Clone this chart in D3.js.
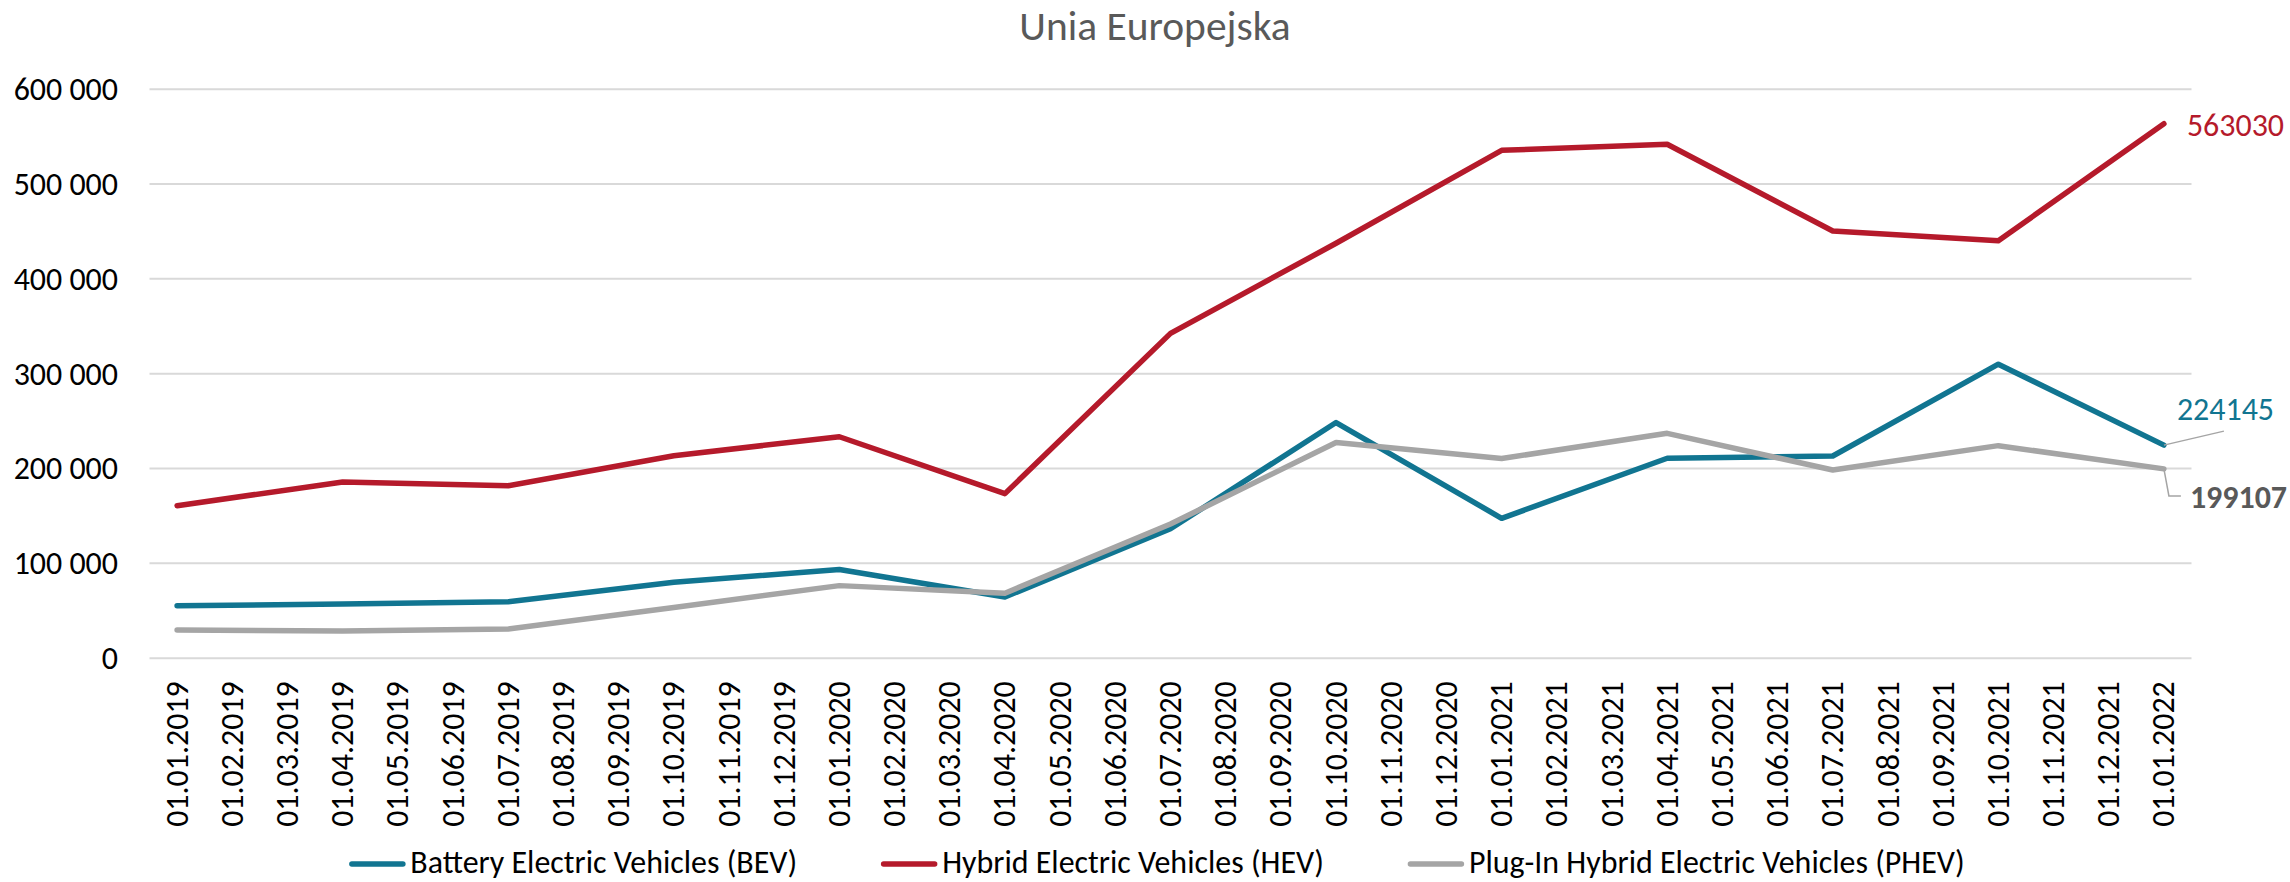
<!DOCTYPE html>
<html><head><meta charset="utf-8">
<script src="https://cdn.jsdelivr.net/npm/d3@7"></script>
<style>html,body{margin:0;padding:0;background:#fff;overflow:hidden}</style>
</head><body><svg id="c" width="2290" height="882"></svg>
<script>
const chartTitle = "Unia Europejska";
const categories = [
  "01.01.2019","01.02.2019","01.03.2019","01.04.2019","01.05.2019","01.06.2019",
  "01.07.2019","01.08.2019","01.09.2019","01.10.2019","01.11.2019","01.12.2019",
  "01.01.2020","01.02.2020","01.03.2020","01.04.2020","01.05.2020","01.06.2020",
  "01.07.2020","01.08.2020","01.09.2020","01.10.2020","01.11.2020","01.12.2020",
  "01.01.2021","01.02.2021","01.03.2021","01.04.2021","01.05.2021","01.06.2021",
  "01.07.2021","01.08.2021","01.09.2021","01.10.2021","01.11.2021","01.12.2021",
  "01.01.2022"
];
const seriesNames = ["Battery Electric Vehicles (BEV)","Hybrid Electric Vehicles (HEV)","Plug-In Hybrid Electric Vehicles (PHEV)"];
const bevValues = [54800,null,null,56600,null,null,59100,null,null,79500,null,null,
  93000,null,null,64000,null,null,136000,null,null,248000,null,null,
  147000,null,null,210300,null,null,212700,null,null,309500,null,null,224145];
const hevValues = [160300,null,null,185300,null,null,181400,null,null,213000,null,null,
  233000,null,null,173000,null,null,342000,null,null,437000,null,null,
  535000,null,null,541400,null,null,450000,null,null,439700,null,null,563030];
const phevValues = [29200,null,null,28200,null,null,30300,null,null,53000,null,null,
  76000,null,null,68000,null,null,141000,null,null,227000,null,null,
  210000,null,null,236600,null,null,197900,null,null,223600,null,null,199107];
const yTicks = [0,100000,200000,300000,400000,500000,600000];

const colors = ["#117591","#B51A2B","#A5A5A5"];
const FONT = "Carlito, Calibri, Lato, 'Open Sans', sans-serif";

(function(){
const svg = d3.select("#c");
const probe = svg.append("text").style("font-family",FONT).style("font-size","100px").text("Battery Electric Vehicles (BEV)");
const pw = probe.node().getComputedTextLength(); probe.remove();
const FS = Math.min(34, 100*387/pw);
const TFS = FS*41/31.6;

const pL = 149.5, pR = 2191.5, pT = 88.7, pB = 657.7;
const x = d3.scaleBand().domain(categories).range([pL,pR]).padding(0);
const y = d3.scaleLinear().domain([0,600000]).range([pB,pT]);
const bw = x.bandwidth();
const loc = d3.formatLocale({decimal:",",thousands:" ",grouping:[3],currency:["",""]});
const fmt = loc.format(",d");

svg.append("text").attr("x",1155).attr("y",40).attr("text-anchor","middle")
  .style("font-family",FONT).style("font-size",TFS+"px").style("fill","#595959").text(chartTitle);

const ya = svg.append("g").attr("transform",`translate(${pL},0)`)
  .call(d3.axisLeft(y).tickValues(yTicks).tickSize(-(pR-pL)).tickPadding(31.5).tickFormat(fmt));
ya.select(".domain").remove();
ya.selectAll(".tick line").attr("stroke","#D9D9D9").attr("stroke-width",2);
ya.selectAll(".tick text").style("font-family",FONT).style("font-size",FS+"px").style("fill","#000").attr("dy","0.34em");

const xa = svg.append("g").attr("transform",`translate(0,${pB})`)
  .call(d3.axisBottom(x).tickSize(0).tickPadding(0));
xa.select(".domain").remove();
xa.selectAll(".tick text").attr("transform","rotate(-90)").attr("text-anchor","end")
  .attr("x",-23.5).attr("y",0).attr("dy","0.33em")
  .style("font-family",FONT).style("font-size",FS+"px").style("fill","#000");

const allSeries = [bevValues,hevValues,phevValues].map((vals,i)=>({
  name: seriesNames[i], color: colors[i],
  pts: vals.map((v,j)=>({c:categories[j],v})).filter(d=>d.v!==null)
}));
const line = d3.line().x(d=>x(d.c)+bw/2).y(d=>y(d.v));
svg.append("g").selectAll("path").data(allSeries).join("path")
  .attr("d",d=>line(d.pts)).attr("fill","none").attr("stroke",d=>d.color)
  .attr("stroke-width",5.5).attr("stroke-linejoin","round").attr("stroke-linecap","round");

const labelCfg = [
  {s:0, dx:13, dy:-36, bold:false, color:colors[0], leader:[[0,0],[60,-14]]},
  {s:1, dx:23, dy:1, bold:false, color:colors[1], leader:null},
  {s:2, dx:26, dy:28, bold:true, color:"#595959", leader:[[0,0],[5,27],[17,27]]}
];
labelCfg.forEach(cfg=>{
  const ser = allSeries[cfg.s];
  const last = ser.pts[ser.pts.length-1];
  const px = x(last.c)+bw/2, py = y(last.v);
  if(cfg.leader){
    svg.append("path").attr("d",d3.line()(cfg.leader.map(p=>[px+p[0],py+p[1]])))
      .attr("fill","none").attr("stroke","#A5A5A5").attr("stroke-width",1.5);
  }
  svg.append("text").attr("x",px+cfg.dx).attr("y",py+cfg.dy).attr("dy","0.34em")
    .style("font-family",FONT).style("font-size",FS+"px").style("font-weight",cfg.bold?"bold":"normal")
    .style("fill",cfg.color).text(last.v);
});

const lg = svg.append("g");
const symW = 56, symGap = 5, itemGap = 84, legY = 864, legBase = 873;
const items = allSeries.map(s=>{
  const t = lg.append("text").attr("y",legBase).style("font-family",FONT).style("font-size",FS+"px").style("fill","#000").text(s.name);
  return {s, t, w: t.node().getComputedTextLength()};
});
const total = d3.sum(items,d=>symW+symGap+d.w) + itemGap*(items.length-1);
let cx = 1157 - total/2;
items.forEach(it=>{
  lg.append("line").attr("x1",cx+2.5).attr("x2",cx+symW-2.5).attr("y1",legY).attr("y2",legY)
    .attr("stroke",it.s.color).attr("stroke-width",5.5).attr("stroke-linecap","round");
  it.t.attr("x",cx+symW+symGap);
  cx += symW+symGap+it.w+itemGap;
});
})();
</script></body></html>
